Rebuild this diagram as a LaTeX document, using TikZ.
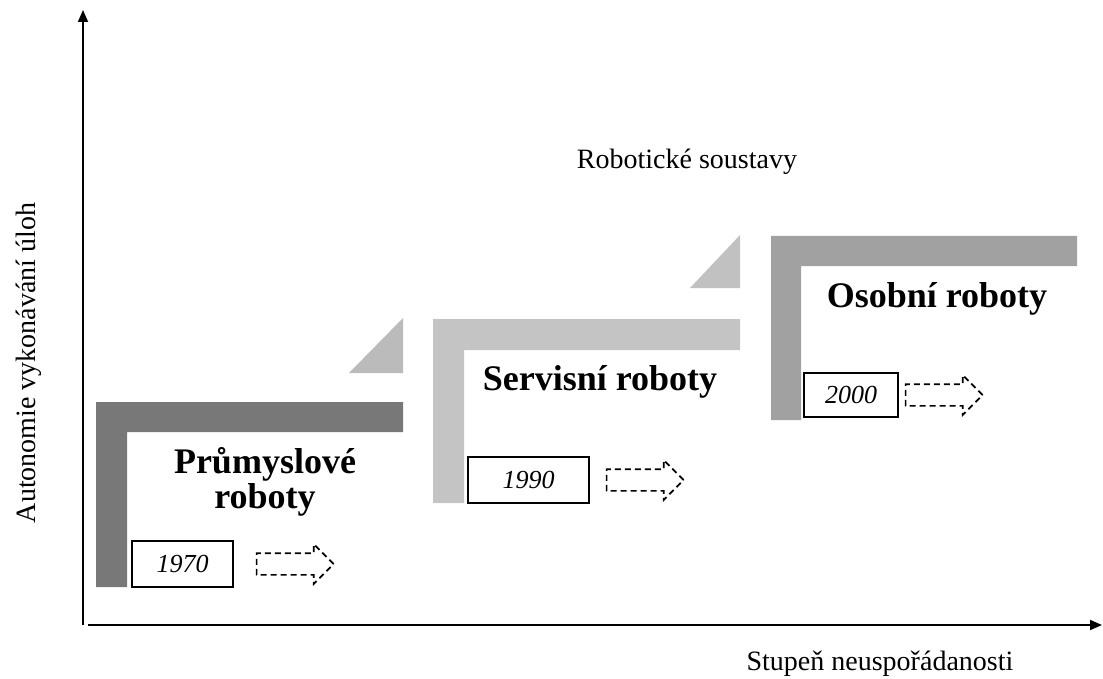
\documentclass[tikz,border=0pt]{standalone}
\usepackage{fontspec}
\setmainfont{Liberation Serif}
\usetikzlibrary{positioning,shapes.arrows,arrows.meta}
\definecolor{darkstep}{gray}{0.47}
\definecolor{midstep}{gray}{0.63}
\definecolor{lightstep}{gray}{0.77}
\def\firststep{(96,402) -- (403,402) -- (403,432) -- (127,432) -- (127,587) -- (96,587) -- cycle}
\def\secondstep{(433,319) -- (740,319) -- (740,350) -- (464,350) -- (464,503) -- (433,503) -- cycle}
\def\thirdstep{(771,236) -- (1077,236) -- (1077,266) -- (801,266) -- (801,420) -- (771,420) -- cycle}
\def\firstwedge{(349,373) -- (403,373) -- (403,318) -- cycle}
\def\secondwedge{(690,288) -- (740,288) -- (740,235) -- cycle}

\begin{document}
\begin{tikzpicture}[
    x=1pt, y=-1pt,
    axis/.style={line width=1.8pt, -{Triangle[length=12pt,width=10pt]}},
    title/.style={font=\fontsize{36}{35}\selectfont\bfseries, align=center},
    label/.style={font=\fontsize{28}{30}\selectfont},
    year/.style={draw, line width=1.5pt, inner sep=0pt, font=\fontsize{26}{28}\selectfont\itshape},
    dasharrow/.style={single arrow, draw, line width=1.7pt, dash pattern=on 6pt off 4pt,
        minimum height=77pt, minimum width=38pt, inner xsep=0pt, inner ysep=10pt,
        single arrow head extend=9pt}
    ]
    \useasboundingbox (0,0) rectangle (1103,679);
      % axes
      \coordinate (origin) at (83,625);
      \coordinate (ytop) at (83,10);
      \coordinate (xstart) at (88,625);
      \coordinate (xend) at (1102,625);
      \draw[axis] (origin) -- (ytop);
      \draw[axis] (xstart) -- (xend);
      \node[label, rotate=90, anchor=base] (ylabel) at (35,363) {Autonomie vykonávání úloh};
      \node[label, anchor=base] (xlabel) at (880,670) {Stupeň neuspořádanosti};
      \node[label, anchor=base] (system) at (687,169) {Robotické soustavy};
      % steps
      \begin{scope}
        \fill[darkstep] \firststep;
        \fill[lightstep!95!black] \firstwedge;
        \fill[lightstep] \secondstep;
        \fill[lightstep!105!white] \secondwedge;
        \fill[midstep] \thirdstep;
      \end{scope}
      \node[title] (industry) at (265,482) {Průmyslové\\roboty};
      \node[title, anchor=base] (service) at (600,390) {Servisní roboty};
      \node[title, anchor=base] (personal) at (937,307) {Osobní roboty};
      % years
      \node[year, minimum width=101pt, minimum height=46pt] (y1970) at (182.5,564) {1970};
      \node[year, minimum width=121pt, minimum height=46pt] (y1990) at (528.5,480) {1990};
      \node[year, minimum width=94pt, minimum height=44pt] (y2000) at (851,395) {2000};
      \node[dasharrow, right=22pt of y1970] (a1970) {};
      \node[dasharrow, right=16pt of y1990] (a1990) {};
      \node[dasharrow, right=6pt of y2000] (a2000) {};
    \end{tikzpicture}
\end{document}
